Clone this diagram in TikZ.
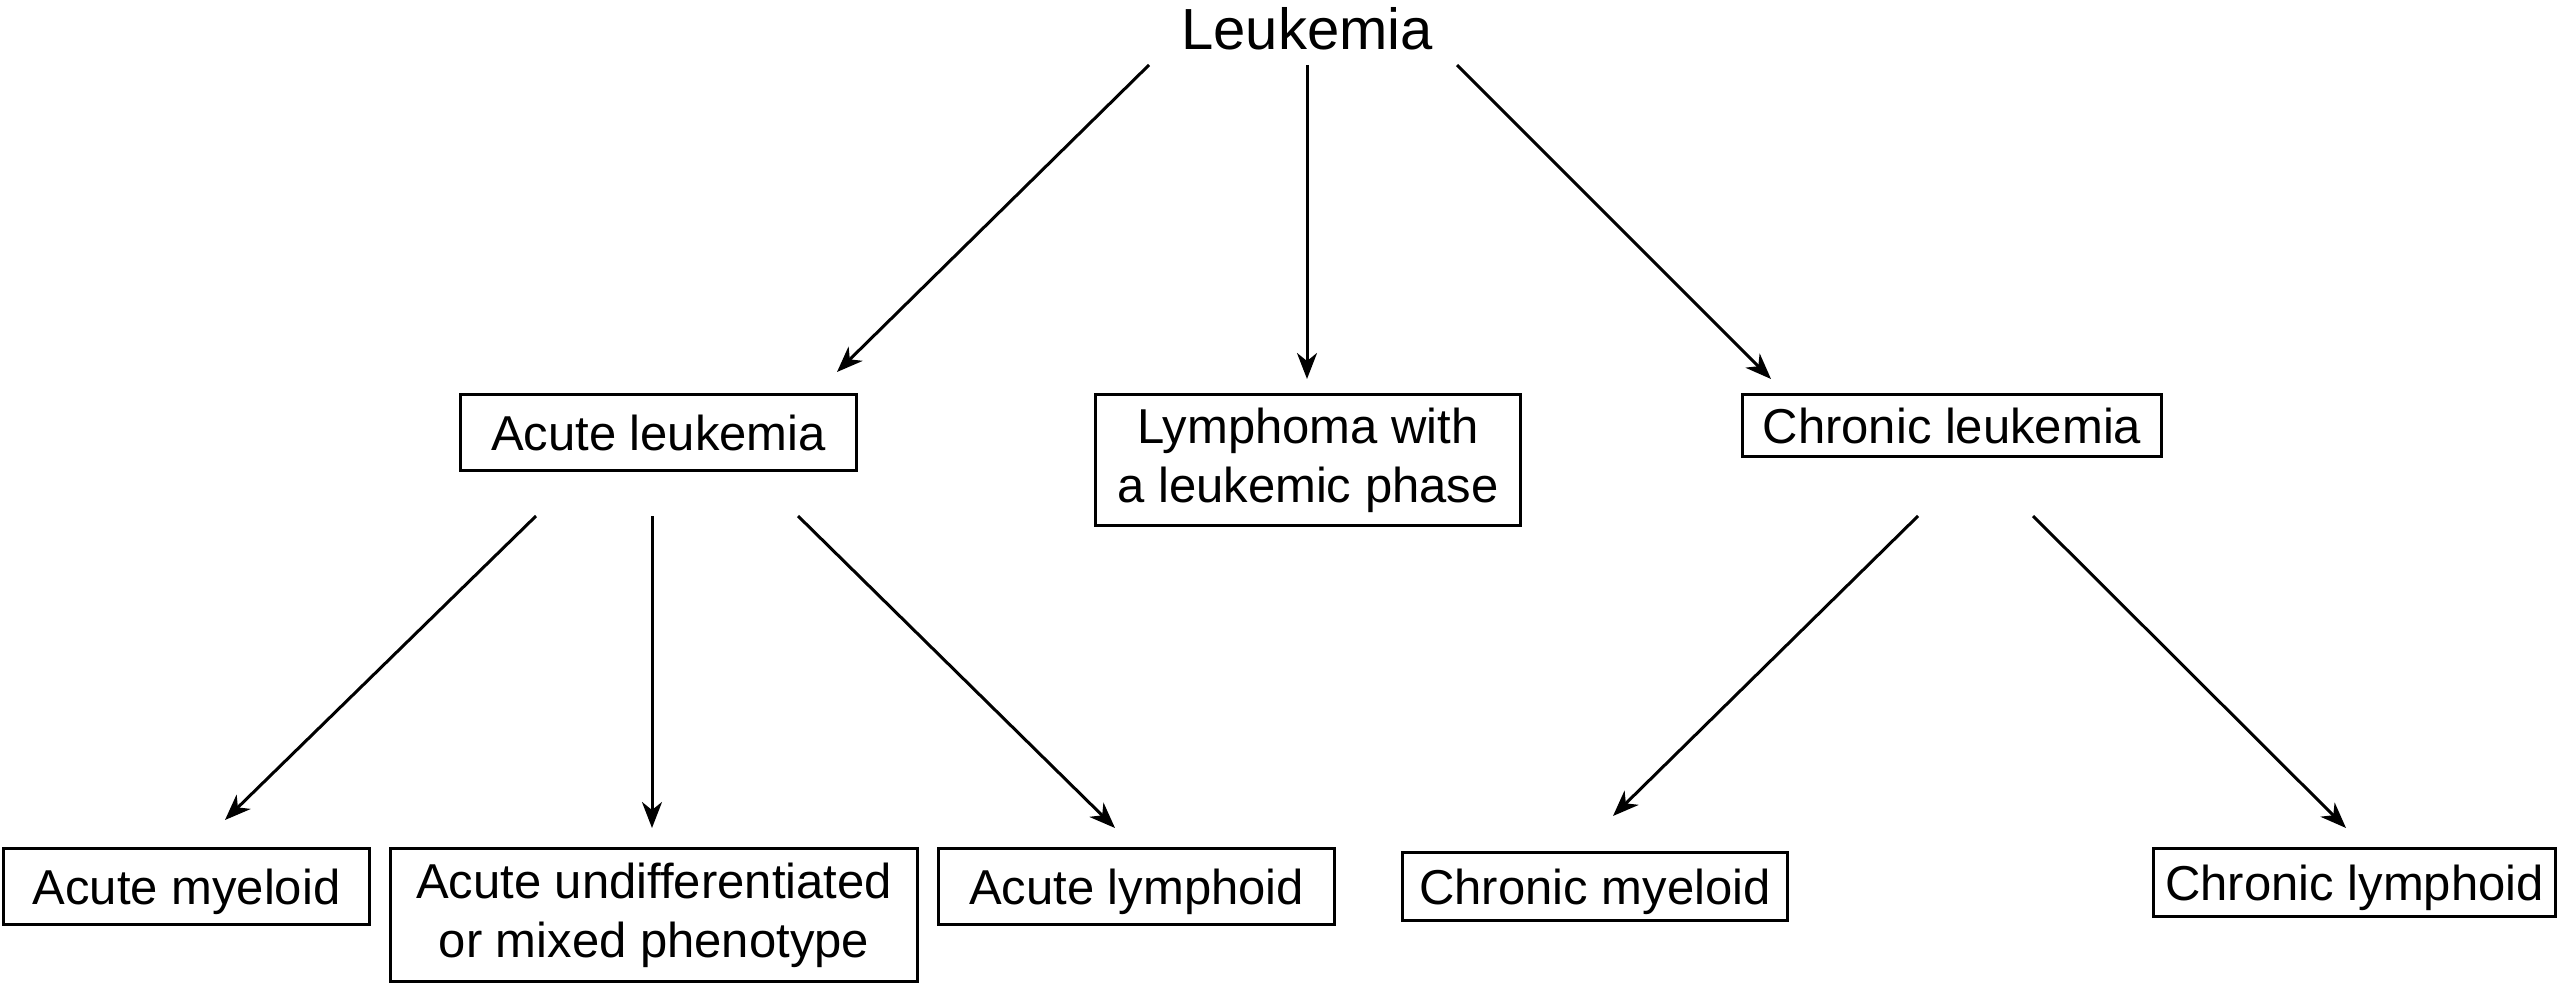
\documentclass[tikz,border=0pt]{standalone}
\usepackage{fontspec}
\setmainfont{Liberation Sans}
\usetikzlibrary{arrows.meta}
\begin{document}
\begin{tikzpicture}[x=1pt,y=-1pt,
  box/.style={draw,line width=3pt,inner sep=0pt,font=\fontsize{49}{59}\selectfont,align=center},
  one/.style={text height=35pt,text depth=0pt},
  arr/.style={line width=3pt,-{Stealth[length=26pt,width=20pt,inset=8pt]}}]
\useasboundingbox (0,0) rectangle (2560,987);

\node[font=\fontsize{58}{70}\selectfont,anchor=base,inner sep=0pt] (leuk) at (1307,50) {Leukemia};

\node[box,one,minimum width=396pt,minimum height=76pt] (acute) at (658.5,432.5) {Acute leukemia};
\node[box,minimum width=425pt,minimum height=131pt] (lymph) at (1308,460) {Lymphoma with\\a leukemic phase};
\node[box,one,minimum width=419pt,minimum height=62pt] (chronic) at (1952,425.5) {Chronic leukemia};

\node[box,one,minimum width=366pt,minimum height=76pt] (am) at (186.5,886.5) {Acute myeloid};
\node[box,minimum width=527pt,minimum height=133pt] (aum) at (654,915) {Acute undifferentiated\\or mixed phenotype};
\node[box,one,minimum width=396pt,minimum height=76pt] (al) at (1136.5,886.5) {Acute lymphoid};
\node[box,one,minimum width=385pt,minimum height=68pt] (cm) at (1595,886.5) {Chronic myeloid};
\node[box,one,minimum width=402pt,minimum height=68pt] (cl) at (2354.5,882.5) {Chronic lymphoid};

\coordinate (s1) at (1149,65);  \coordinate (e1) at (837,372);
\coordinate (s2) at (1307,65);  \coordinate (e2) at (1307,379);
\coordinate (s3) at (1457,65);  \coordinate (e3) at (1771,379);
\coordinate (s4) at (536,516);  \coordinate (e4) at (225,820);
\coordinate (s5) at (652,516);  \coordinate (e5) at (652,828);
\coordinate (s6) at (798,516);  \coordinate (e6) at (1115,828);
\coordinate (s7) at (1918,516); \coordinate (e7) at (1613,816);
\coordinate (s8) at (2033,516); \coordinate (e8) at (2346,828);

\foreach \i in {1,...,8} {\draw[arr] (s\i) -- (e\i);}
\end{tikzpicture}
\end{document}
